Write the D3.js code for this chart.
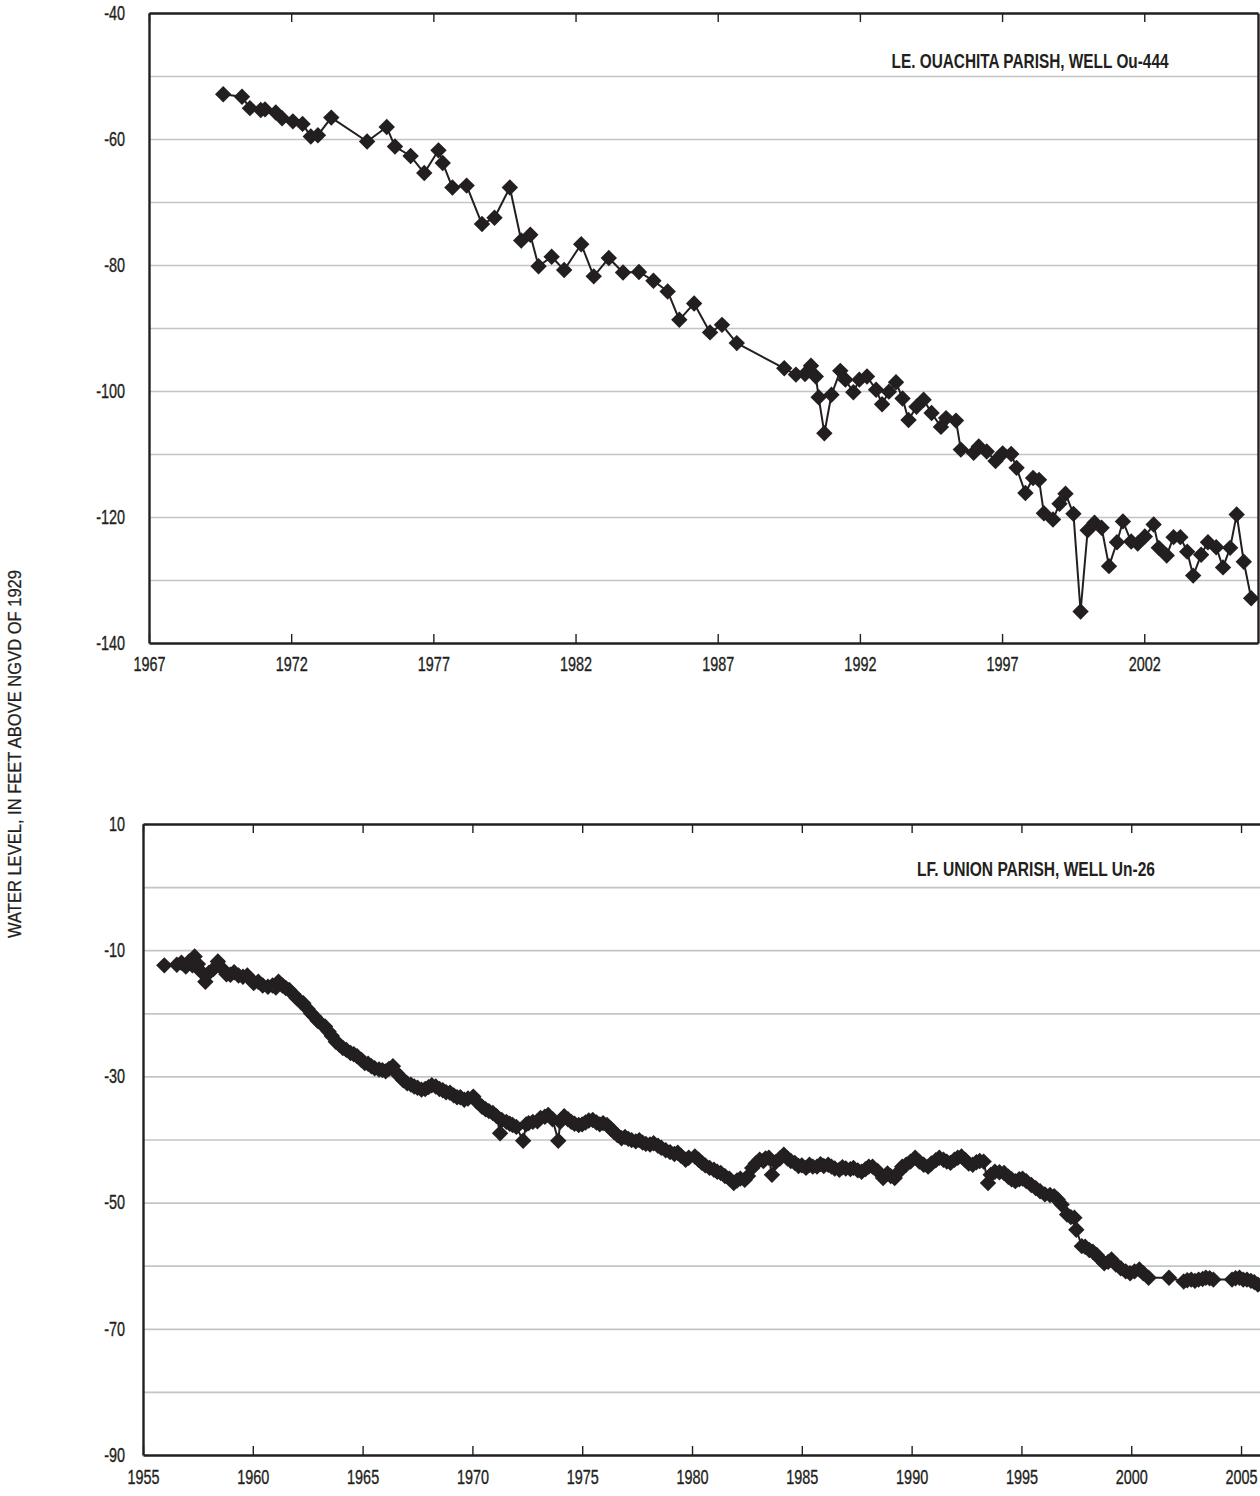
<!DOCTYPE html>
<html>
<head>
<meta charset="utf-8">
<script src="https://cdn.jsdelivr.net/npm/d3@7"></script>
<style>
  html, body { margin: 0; padding: 0; background: #fff; }
  svg { display: block; }
  text { font-family: "Liberation Sans", Arial, sans-serif; fill: #231f20; }
  .tick text { font-size: 19.5px; stroke: #231f20; stroke-width: 0.35px; }
  .axis-title { stroke: #231f20; stroke-width: 0.25px; }
</style>
</head>
<body>
<svg id="chart" width="1260" height="1496"></svg>
<script>
// Well Ou-444, Ouachita Parish: measurement dates (decimal years) and water levels (ft, NGVD 1929)
const ouachitaYears = [
  1969.61, 1970.27, 1970.55, 1970.93, 1971.08, 1971.46, 1971.68, 1972.06, 1972.40, 1972.69,
  1972.94, 1973.41, 1974.67, 1975.36, 1975.65, 1976.20, 1976.68, 1977.18, 1977.33, 1977.67,
  1978.17, 1978.71, 1979.15, 1979.69, 1980.09, 1980.41, 1980.70, 1981.16, 1981.60, 1982.20,
  1982.64, 1983.17, 1983.67, 1984.23, 1984.74, 1985.24, 1985.65, 1986.17, 1986.73, 1987.15,
  1987.67, 1989.34, 1989.75, 1990.07, 1990.28, 1990.45, 1990.55, 1990.75, 1991.00, 1991.31,
  1991.49, 1991.77, 1991.98, 1992.25, 1992.57, 1992.78, 1993.02, 1993.27, 1993.50, 1993.71,
  1993.99, 1994.24, 1994.52, 1994.85, 1995.03, 1995.38, 1995.55, 1996.00, 1996.18, 1996.46,
  1996.77, 1997.02, 1997.32, 1997.51, 1997.82, 1998.09, 1998.30, 1998.47, 1998.79, 1999.02,
  1999.23, 1999.51, 1999.76, 2000.01, 2000.25, 2000.50, 2000.76, 2001.04, 2001.25, 2001.54,
  2001.77, 2002.02, 2002.33, 2002.51, 2002.79, 2003.03, 2003.27, 2003.51, 2003.72, 2004.00,
  2004.24, 2004.53, 2004.77, 2005.02, 2005.25, 2005.50, 2005.76
];
const ouachitaLevels = [
  -52.9, -53.3, -55.1, -55.4, -55.3, -55.8, -56.7, -57.2, -57.6, -59.6,
  -59.4, -56.6, -60.4, -58.1, -61.2, -62.7, -65.4, -61.8, -63.8, -67.7,
  -67.4, -73.5, -72.5, -67.7, -76.1, -75.2, -80.2, -78.7, -80.8, -76.7,
  -81.8, -78.9, -81.2, -81.1, -82.5, -84.2, -88.7, -86.1, -90.7, -89.5,
  -92.4, -96.4, -97.4, -97.3, -96.0, -97.7, -101.0, -106.7, -100.6, -96.8,
  -98.2, -100.2, -98.2, -97.7, -99.8, -102.1, -100.1, -98.6, -101.2, -104.6,
  -102.5, -101.4, -103.5, -105.7, -104.3, -104.7, -109.3, -109.8, -108.8, -109.6,
  -111.1, -109.9, -110.0, -112.2, -116.2, -113.8, -114.1, -119.4, -120.4, -117.9,
  -116.3, -119.5, -135.0, -122.1, -120.9, -121.7, -127.8, -124.0, -120.7, -123.9,
  -124.2, -123.1, -121.2, -124.9, -126.1, -123.2, -123.2, -125.5, -129.3, -126.0,
  -124.0, -124.8, -128.0, -124.9, -119.6, -127.1, -132.9
];

// Well Un-26, Union Parish
const unionYears = [
  1955.97, 1956.54, 1956.75, 1956.95, 1957.10, 1957.25, 1957.35, 1957.50, 1957.65, 1957.84,
  1958.00, 1958.20, 1958.41, 1958.60, 1958.80, 1958.98, 1959.15, 1959.35, 1959.55, 1959.75,
  1959.90, 1960.04, 1960.25, 1960.45, 1960.69, 1960.90, 1961.05, 1961.17, 1961.35, 1961.50,
  1961.66, 1961.85, 1962.00, 1962.15, 1962.30, 1962.50, 1962.65, 1962.80, 1962.95, 1963.10,
  1963.29, 1963.45, 1963.60, 1963.78, 1963.95, 1964.10, 1964.26, 1964.45, 1964.60, 1964.75,
  1964.95, 1965.10, 1965.25, 1965.40, 1965.55, 1965.75, 1965.90, 1966.05, 1966.20, 1966.38,
  1966.55, 1966.70, 1966.85, 1967.03, 1967.20, 1967.35, 1967.50, 1967.68, 1967.85, 1968.00,
  1968.15, 1968.33, 1968.50, 1968.65, 1968.80, 1968.98, 1969.15, 1969.30, 1969.45, 1969.63,
  1969.80, 1970.04, 1970.20, 1970.44, 1970.60, 1970.75, 1970.93, 1971.10, 1971.26, 1971.34,
  1971.55, 1971.70, 1971.83, 1972.00, 1972.31, 1972.45, 1972.56, 1972.75, 1972.96, 1973.10,
  1973.30, 1973.45, 1973.65, 1973.91, 1974.00, 1974.18, 1974.35, 1974.50, 1974.65, 1974.84,
  1975.00, 1975.15, 1975.30, 1975.48, 1975.65, 1975.80, 1975.95, 1976.13, 1976.30, 1976.45,
  1976.60, 1976.79, 1976.95, 1977.10, 1977.25, 1977.44, 1977.60, 1977.75, 1977.90, 1978.09,
  1978.25, 1978.45, 1978.60, 1978.80, 1979.00, 1979.20, 1979.35, 1979.50, 1979.71, 1979.85,
  1980.13, 1980.30, 1980.45, 1980.60, 1980.80, 1981.00, 1981.15, 1981.31, 1981.50, 1981.70,
  1981.90, 1982.05, 1982.20, 1982.40, 1982.55, 1982.74, 1982.90, 1983.08, 1983.25, 1983.35,
  1983.50, 1983.64, 1983.80, 1984.00, 1984.18, 1984.35, 1984.50, 1984.68, 1984.85, 1985.00,
  1985.19, 1985.35, 1985.50, 1985.69, 1985.85, 1986.00, 1986.20, 1986.35, 1986.50, 1986.71,
  1986.85, 1987.00, 1987.21, 1987.35, 1987.55, 1987.72, 1987.90, 1988.05, 1988.22, 1988.45,
  1988.70, 1988.90, 1989.05, 1989.23, 1989.40, 1989.57, 1989.75, 1989.95, 1990.16, 1990.35,
  1990.55, 1990.75, 1990.90, 1991.10, 1991.26, 1991.45, 1991.60, 1991.77, 1991.95, 1992.10,
  1992.27, 1992.45, 1992.60, 1992.78, 1992.95, 1993.10, 1993.28, 1993.48, 1993.60, 1993.79,
  1994.00, 1994.21, 1994.40, 1994.55, 1994.72, 1994.90, 1995.05, 1995.22, 1995.45, 1995.65,
  1995.85, 1996.07, 1996.30, 1996.49, 1996.65, 1996.83, 1997.08, 1997.25, 1997.41, 1997.50,
  1997.75, 1997.90, 1998.09, 1998.25, 1998.43, 1998.60, 1998.77, 1998.95, 1999.10, 1999.30,
  1999.52, 1999.75, 1999.95, 2000.15, 2000.37, 2000.55, 2000.79, 2001.72, 2002.39, 2002.55,
  2002.73, 2002.90, 2003.07, 2003.25, 2003.40, 2003.57, 2003.74, 2004.59, 2004.75, 2004.93,
  2005.10, 2005.27, 2005.45, 2005.60, 2005.77
];
const unionLevels = [
  -12.4, -12.3, -12.0, -12.6, -11.8, -12.4, -11.0, -12.2, -13.4, -15.0,
  -13.6, -13.0, -11.8, -12.9, -13.8, -13.9, -13.5, -14.0, -14.2, -14.0,
  -14.6, -15.2, -15.0, -15.6, -15.8, -15.6, -15.9, -15.0, -15.6, -16.0,
  -16.3, -17.0, -17.6, -18.1, -18.4, -19.3, -20.0, -20.5, -21.2, -21.6,
  -22.1, -22.9, -23.6, -24.5, -25.0, -25.5, -25.8, -26.3, -26.5, -26.8,
  -27.4, -27.9, -28.0, -28.4, -28.7, -28.9, -29.0, -29.2, -28.8, -28.4,
  -29.5, -30.0, -30.6, -31.1, -31.3, -31.6, -31.8, -32.1, -32.0, -31.7,
  -31.4, -31.6, -32.0, -32.2, -32.5, -32.6, -33.0, -33.3, -33.3, -33.7,
  -33.5, -33.2, -34.0, -34.8, -35.2, -35.5, -35.8, -36.3, -39.0, -36.9,
  -37.2, -37.5, -37.7, -38.0, -40.2, -37.6, -37.4, -37.2, -37.1, -36.6,
  -36.4, -36.1, -36.8, -40.2, -37.2, -36.3, -36.8, -37.2, -37.5, -37.7,
  -37.6, -37.3, -37.0, -36.9, -37.3, -37.6, -37.4, -37.7, -38.3, -38.8,
  -39.3, -39.8, -39.6, -39.9, -40.1, -40.3, -40.1, -40.5, -40.7, -40.8,
  -40.6, -41.0, -41.3, -41.7, -42.0, -42.3, -42.1, -42.6, -43.2, -42.9,
  -42.7, -43.2, -43.7, -44.1, -44.5, -44.8, -45.1, -45.3, -45.8, -46.2,
  -46.9, -46.5, -46.2, -46.4, -45.8, -44.5, -43.8, -43.2, -43.4, -43.0,
  -42.9, -45.6, -43.6, -43.0, -42.4, -43.0, -43.4, -43.7, -44.2, -44.1,
  -44.5, -44.0, -44.3, -44.3, -43.9, -44.2, -44.0, -44.3, -44.6, -44.8,
  -44.4, -44.6, -44.7, -44.5, -44.9, -45.1, -44.7, -44.3, -44.3, -45.0,
  -46.1, -45.4, -45.8, -46.1, -45.2, -44.3, -44.0, -43.5, -42.9, -43.5,
  -44.0, -44.3, -43.8, -43.3, -42.9, -43.2, -43.5, -43.7, -43.2, -42.9,
  -42.7, -43.3, -43.8, -44.0, -43.6, -43.4, -43.5, -46.9, -45.6, -45.1,
  -45.2, -45.3, -45.9, -46.3, -46.6, -46.3, -46.2, -46.6, -47.2, -47.7,
  -48.2, -48.7, -48.8, -49.0, -49.5, -50.3, -51.9, -52.3, -52.4, -54.3,
  -56.9, -57.0, -57.5, -57.8, -58.3, -59.0, -59.6, -59.4, -59.0, -59.8,
  -60.4, -60.9, -61.2, -60.9, -60.6, -61.2, -61.9, -61.9, -62.5, -62.3,
  -62.2, -62.4, -62.2, -62.1, -61.9, -62.0, -62.2, -62.2, -62.0, -61.9,
  -62.2, -62.2, -62.4, -62.6, -63.0
];

// Axis ticks and grid levels
const ouachitaYearTicks = [1967, 1972, 1977, 1982, 1987, 1992, 1997, 2002];
const ouachitaLevelTicks = [-40, -60, -80, -100, -120, -140];
const ouachitaGridLevels = [-50, -60, -70, -80, -90, -100, -110, -120, -130];
const unionYearTicks = [1955, 1960, 1965, 1970, 1975, 1980, 1985, 1990, 1995, 2000, 2005];
const unionLevelTicks = [10, -10, -30, -50, -70, -90];
const unionGridLevels = [0, -10, -20, -30, -40, -50, -60, -70, -80];

const ouachitaTitle = "LE. OUACHITA PARISH, WELL Ou-444";
const unionTitle = "LF. UNION PARISH, WELL Un-26";
const yAxisTitle = "WATER LEVEL, IN FEET ABOVE NGVD OF 1929";

const INK = "#231f20";
const GRID = "#c4c4c4";
const SQUEEZE = 0.74;          // horizontal squeeze for a condensed look
const LABEL_RIGHT = 125;       // right edge of the level labels
const plain = d => String(d);  // hyphen-minus, as printed on the axes

const svg = d3.select("#chart");

function drawPanel(cfg) {
  const x = d3.scaleLinear().domain(cfg.xDomain).range([cfg.left, cfg.right]);
  const y = d3.scaleLinear().domain(cfg.yDomain).range([cfg.top, cfg.bottom]);
  const g = svg.append("g");

  // horizontal grid lines
  g.append("g")
    .attr("transform", `translate(${cfg.left},0)`)
    .call(d3.axisLeft(y).tickValues(cfg.grid).tickSize(-(cfg.right - cfg.left)).tickFormat(""))
    .call(a => a.select(".domain").remove())
    .call(a => a.selectAll(".tick line").attr("stroke", GRID).attr("stroke-width", 1.7));

  // connecting line and diamond markers
  const pts = cfg.years.map((t, i) => [t, cfg.levels[i]]);
  g.append("path")
    .datum(pts)
    .attr("fill", "none")
    .attr("stroke", INK)
    .attr("stroke-width", 2)
    .attr("stroke-linejoin", "round")
    .attr("d", d3.line().x(d => x(d[0])).y(d => y(d[1])));

  const r = 8.2;
  const diamond = `M0,${-r}L${r},0L0,${r}L${-r},0Z`;
  g.append("g")
    .selectAll("path")
    .data(pts)
    .join("path")
    .attr("d", diamond)
    .attr("fill", INK)
    .attr("transform", d => `translate(${x(d[0])},${y(d[1])})`);

  // bottom axis: inward ticks, year labels
  g.append("g")
    .attr("transform", `translate(0,${cfg.bottom})`)
    .attr("color", INK)
    .call(d3.axisBottom(x).tickValues(cfg.xTicks).tickSizeInner(-9).tickSizeOuter(0)
      .tickPadding(cfg.xLabelPad).tickFormat(plain))
    .call(a => a.attr("font-size", null).attr("font-family", null))
    .call(a => a.select(".domain").attr("stroke-width", 2.4))
    .call(a => a.selectAll(".tick line").attr("stroke-width", 1.4))
    .call(a => a.selectAll(".tick text").attr("transform", `scale(${SQUEEZE},1)`));

  // top border with inward ticks
  g.append("g")
    .attr("transform", `translate(0,${cfg.top})`)
    .attr("color", INK)
    .call(d3.axisTop(x).tickValues(cfg.xTicks).tickSizeInner(-9).tickSizeOuter(0).tickFormat(""))
    .call(a => a.select(".domain").attr("stroke-width", 2.4))
    .call(a => a.selectAll(".tick line").attr("stroke-width", 1.4));

  // left axis: level labels only
  g.append("g")
    .attr("transform", `translate(${cfg.left},0)`)
    .attr("color", INK)
    .call(d3.axisLeft(y).tickValues(cfg.yTicks).tickSize(0)
      .tickPadding((cfg.left - LABEL_RIGHT) / SQUEEZE).tickFormat(plain))
    .call(a => a.attr("font-size", null).attr("font-family", null))
    .call(a => a.select(".domain").attr("stroke-width", 2.4))
    .call(a => a.selectAll(".tick text").attr("transform", `scale(${SQUEEZE},1)`));

  // right border
  g.append("g")
    .attr("transform", `translate(${cfg.right},0)`)
    .attr("color", INK)
    .call(d3.axisRight(y).tickValues([]).tickSizeOuter(0))
    .call(a => a.select(".domain").attr("stroke-width", 2.4));

  // panel title
  g.append("text")
    .attr("x", cfg.titleX)
    .attr("y", cfg.titleY)
    .attr("text-anchor", "middle")
    .attr("dominant-baseline", "central")
    .attr("font-weight", "bold")
    .attr("font-size", 20)
    .attr("textLength", cfg.titleWidth)
    .attr("lengthAdjust", "spacingAndGlyphs")
    .text(cfg.title);
}

drawPanel({
  years: ouachitaYears, levels: ouachitaLevels,
  xTicks: ouachitaYearTicks, yTicks: ouachitaLevelTicks, grid: ouachitaGridLevels,
  xDomain: [1967, 2006], yDomain: [-40, -140],
  left: 149, right: 1258, top: 13, bottom: 643,
  xLabelPad: 14,
  title: ouachitaTitle, titleX: 1030, titleY: 61, titleWidth: 277
});

drawPanel({
  years: unionYears, levels: unionLevels,
  xTicks: unionYearTicks, yTicks: unionLevelTicks, grid: unionGridLevels,
  xDomain: [1955, 2006], yDomain: [10, -90],
  left: 143, right: 1263, top: 824, bottom: 1455,
  xLabelPad: 15,
  title: unionTitle, titleX: 1036, titleY: 869, titleWidth: 238
});

// shared vertical axis title
svg.append("text")
  .attr("class", "axis-title")
  .attr("transform", "translate(15,754) rotate(-90)")
  .attr("text-anchor", "middle")
  .attr("dominant-baseline", "central")
  .attr("font-size", 18)
  .attr("textLength", 368)
  .attr("lengthAdjust", "spacingAndGlyphs")
  .text(yAxisTitle);
</script>
</body>
</html>
